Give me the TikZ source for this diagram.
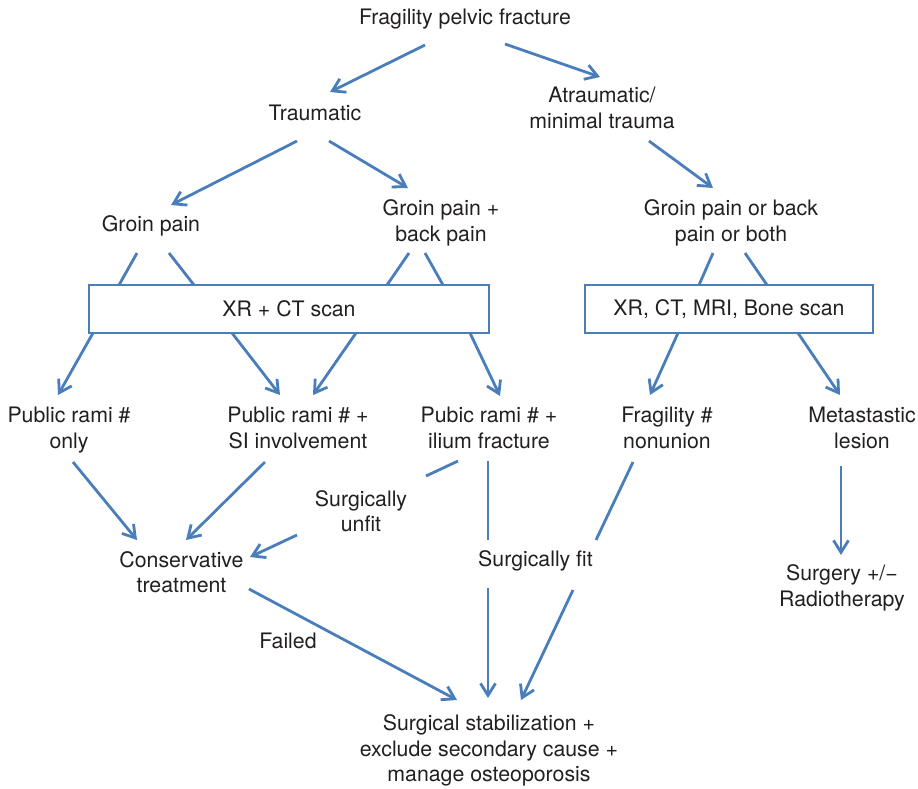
\documentclass[tikz,border=0pt]{standalone}
\usepackage{fontspec}
\setmainfont{TeX Gyre Heros}
\usetikzlibrary{arrows.meta}
\definecolor{flowblue}{HTML}{4A7EBB}
\definecolor{txt}{HTML}{231F20}
\begin{document}
\begin{tikzpicture}[x=1pt,y=-1pt,
  lbl/.style={inner sep=0pt, align=center, text=txt,
    font=\fontsize{21.3pt}{25.6pt}\selectfont},
  boxnode/.style={lbl, draw=flowblue, line width=1.3pt, minimum height=48pt},
  link/.style={draw=flowblue, line width=2.8pt},
  arr/.style={link, -{Straight Barb[length=12pt,width=15pt]}}]
\useasboundingbox (0,0) rectangle (918,788);

% nodes
\node[lbl] (fpf) at (465,19) {Fragility pelvic fracture};
\node[lbl] (trau) at (315,112.5) {Traumatic};
\node[lbl] (atra) at (602,108) {Atraumatic/\\minimal trauma};
\node[lbl] (gp) at (151,226) {Groin pain};
\node[lbl] (gpb) at (441,223) {Groin pain +\\back pain};
\node[lbl] (gpo) at (731,223) {Groin pain or back\\pain or both};
\node[boxnode, minimum width=400pt] (xrct) at (289,309) {XR + CT scan};
\node[boxnode, minimum width=288pt] (xrall) at (729,309) {XR, CT, MRI, Bone scan};
\node[lbl] (pro) at (69,430) {Public rami \#\\only};
\node[lbl] (prsi) at (298,428) {Public rami \# +\\SI involvement};
\node[lbl] (pril) at (489,428) {Pubic rami \# +\\ilium fracture};
\node[lbl] (fnu) at (667,428) {Fragility \#\\nonunion};
\node[lbl] (met) at (862,428) {Metastastic\\lesion};
\node[lbl] (unfit) at (361,511) {Surgically\\unfit};
\node[lbl] (cons) at (181.5,572) {Conservative\\treatment};
\node[lbl] (fit) at (535.5,561) {Surgically fit};
\node[lbl] (surg) at (842,588) {Surgery +/−\\Radiotherapy};
\node[lbl] (failed) at (288,640.5) {Failed};
\node[lbl] (stab) at (489,750.5) {Surgical stabilization +\\exclude secondary cause +\\manage osteoporosis};

% connector end points
\coordinate (a1s) at (425,45);  \coordinate (a1e) at (330,92);
\coordinate (a2s) at (505,44);  \coordinate (a2e) at (600,77);
\coordinate (a3s) at (297,141); \coordinate (a3e) at (171,205);
\coordinate (a4s) at (329,141); \coordinate (a4e) at (408,188);
\coordinate (a5s) at (649,141); \coordinate (a5e) at (713,188);
\coordinate (g1s) at (137,253); \coordinate (g1e) at (119,285);
\coordinate (g2s) at (169,253); \coordinate (g2e) at (194,285);
\coordinate (g3s) at (409,253); \coordinate (g3e) at (387,285);
\coordinate (g4s) at (425,253); \coordinate (g4e) at (443,285);
\coordinate (g5s) at (713,253); \coordinate (g5e) at (699,285);
\coordinate (g6s) at (745,253); \coordinate (g6e) at (767,285);
\coordinate (b1s) at (93,333);  \coordinate (b1e) at (58,395);
\coordinate (b2s) at (232,333); \coordinate (b2e) at (280,395);
\coordinate (b3s) at (356,333); \coordinate (b3e) at (313,395);
\coordinate (b4s) at (470,333); \coordinate (b4e) at (500,396);
\coordinate (b5s) at (678,333); \coordinate (b5e) at (650,395);
\coordinate (b6s) at (798,333); \coordinate (b6e) at (840,395);
\coordinate (c1s) at (73,462);  \coordinate (c1e) at (137,540);
\coordinate (c2s) at (265,462); \coordinate (c2e) at (186,540);
\coordinate (u1s) at (458,461); \coordinate (u1e) at (426,476);
\coordinate (u2s) at (297,535); \coordinate (u2e) at (250,557);
\coordinate (f1s) at (488,461); \coordinate (f1e) at (488,540);
\coordinate (n1s) at (633,462); \coordinate (n1e) at (596,540);
\coordinate (d1s) at (249,589); \coordinate (d1e) at (457,700);
\coordinate (d2s) at (488,588); \coordinate (d2e) at (488,698);
\coordinate (d3s) at (573,590); \coordinate (d3e) at (521,700);
\coordinate (m1s) at (841,466); \coordinate (m1e) at (841,555);

% connectors
\draw[arr] (a1s) -- (a1e);
\draw[arr] (a2s) -- (a2e);
\draw[arr] (a3s) -- (a3e);
\draw[arr] (a4s) -- (a4e);
\draw[arr] (a5s) -- (a5e);
\draw[link] (g1s) -- (g1e);
\draw[link] (g2s) -- (g2e);
\draw[link] (g3s) -- (g3e);
\draw[link] (g4s) -- (g4e);
\draw[link] (g5s) -- (g5e);
\draw[link] (g6s) -- (g6e);
\draw[arr] (b1s) -- (b1e);
\draw[arr] (b2s) -- (b2e);
\draw[arr] (b3s) -- (b3e);
\draw[arr] (b4s) -- (b4e);
\draw[arr] (b5s) -- (b5e);
\draw[arr] (b6s) -- (b6e);
\draw[arr] (c1s) -- (c1e);
\draw[arr] (c2s) -- (c2e);
\draw[link] (u1s) -- (u1e);
\draw[arr] (u2s) -- (u2e);
\draw[link] (f1s) -- (f1e);
\draw[link] (n1s) -- (n1e);
\draw[arr] (d1s) -- (d1e);
\draw[arr] (d2s) -- (d2e);
\draw[arr] (d3s) -- (d3e);
\draw[arr] (m1s) -- (m1e);
\end{tikzpicture}
\end{document}
